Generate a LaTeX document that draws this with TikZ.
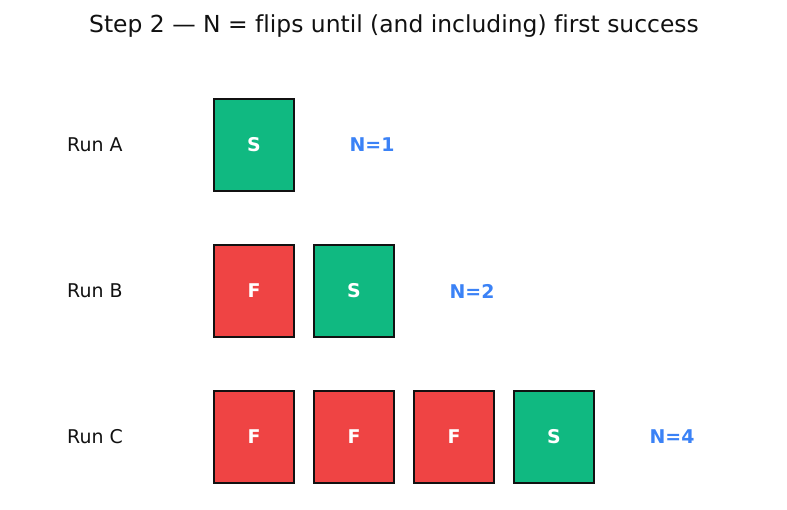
\documentclass[tikz,border=0pt]{standalone}
\usepackage{fontspec}
\setmainfont{DejaVu Sans}[Ligatures=NoCommon]
\usetikzlibrary{positioning}
\definecolor{okgreen}{HTML}{10B981}
\definecolor{failred}{HTML}{EF4444}
\definecolor{countblue}{HTML}{3B82F6}
\definecolor{inkgray}{HTML}{111111}
\tikzstyle{flip} = [rectangle, draw=inkgray, line width=1.5bp, minimum width=80bp, minimum height=92bp, inner sep=0pt, text=white, font=\fontsize{19}{22}\selectfont\bfseries]
\tikzstyle{win} = [flip, fill=okgreen]
\tikzstyle{lose} = [flip, fill=failred]
\tikzstyle{run} = [anchor=west, text=inkgray, inner sep=0pt, font=\fontsize{19}{22}\selectfont]
\tikzstyle{count} = [text=countblue, font=\fontsize{19}{22}\selectfont\bfseries]

\begin{document}
\begin{tikzpicture}[x=1bp, y=-1bp, node distance=100bp]
  \useasboundingbox (0,0) rectangle (787,510);
  % Title
  \node [text=inkgray, font=\fontsize{23.5}{28}\selectfont] (title) at (394,26) {Step 2 — N = flips until (and including) first success};
  % Run A
  \node [run] (runA) at (67,145) {Run A};
  \node [win] (a1) at (254,145) {S};
  \node [count, right of=a1, node distance=118bp] (nA) {N=1};
  % Run B
  \node [run] (runB) at (67,291) {Run B};
  \node [lose] (b1) at (254,291) {F};
  \node [win, right of=b1] (b2) {S};
  \node [count, right of=b2, node distance=118bp] (nB) {N=2};
  % Run C
  \node [run] (runC) at (67,437) {Run C};
  \node [lose] (c1) at (254,437) {F};
  \node [lose, right of=c1] (c2) {F};
  \node [lose, right of=c2] (c3) {F};
  \node [win, right of=c3] (c4) {S};
  \node [count, right of=c4, node distance=118bp] (nC) {N=4};
\end{tikzpicture}
\end{document}
